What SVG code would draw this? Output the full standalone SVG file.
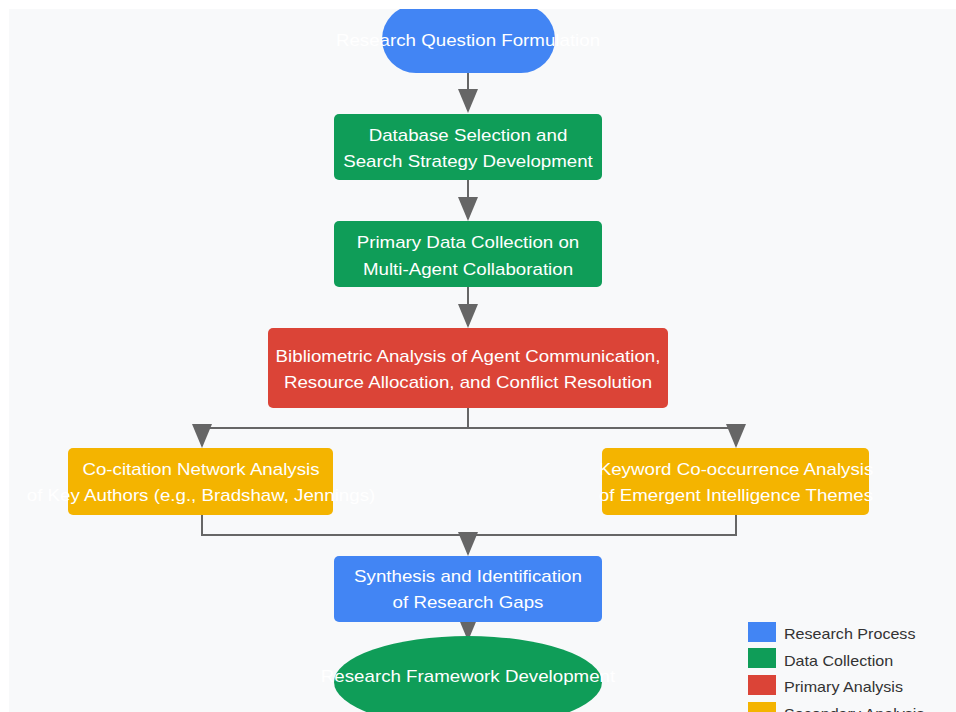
<svg xmlns="http://www.w3.org/2000/svg" width="956" height="712" viewBox="0 0 956 712">
<style>
.t{font-family:"Liberation Sans",Arial,sans-serif;font-size:16px;fill:#ffffff;text-anchor:middle}
.lt{font-family:"Liberation Sans",Arial,sans-serif;font-size:14px;fill:#333333}
.c{fill:none;stroke:#666666;stroke-width:2}
.blue{fill:#4285f4}.green{fill:#0f9d58}.red{fill:#db4437}.yellow{fill:#f4b400}
</style>
<defs>
<clipPath id="view"><rect x="9" y="9" width="947" height="703"/></clipPath>
<marker id="ah" markerUnits="userSpaceOnUse" markerWidth="24" markerHeight="20" viewBox="0 0 24 20" refX="22" refY="10" orient="auto">
<path d="M0,0 L24,10 L0,20 z" fill="#666666"/>
</marker>
</defs>
<rect x="0" y="0" width="956" height="712" fill="#ffffff"/>
<rect x="9" y="9" width="947" height="703" fill="#f8f9fa"/>
<g clip-path="url(#view)">
<g id="connectors">
<line class="c" x1="468" y1="73" x2="468" y2="111" marker-end="url(#ah)"/>
<line class="c" x1="468" y1="180" x2="468" y2="219" marker-end="url(#ah)"/>
<line class="c" x1="468" y1="287" x2="468" y2="326" marker-end="url(#ah)"/>
<polyline class="c" points="468,408 468,428"/>
<polyline class="c" points="202,428 736,428"/>
<line class="c" x1="202" y1="428" x2="202" y2="446" marker-end="url(#ah)"/>
<line class="c" x1="736" y1="428" x2="736" y2="446" marker-end="url(#ah)"/>
<polyline class="c" points="202,515 202,535 736,535 736,515"/>
<line class="c" x1="468" y1="535" x2="468" y2="554" marker-end="url(#ah)"/>
<line class="c" x1="468" y1="622" x2="468" y2="639" marker-end="url(#ah)"/>
</g>
<g id="n1">
<rect class="blue" x="382" y="5" width="173" height="68" rx="34"/>
<text class="t" transform="translate(468 46) scale(1.17 1)">Research Question Formulation</text>
</g>
<g id="n2">
<rect class="green" x="334" y="114" width="268" height="66" rx="5"/>
<text class="t" transform="translate(468 141) scale(1.17 1)">Database Selection and</text>
<text class="t" transform="translate(468 167) scale(1.17 1)">Search Strategy Development</text>
</g>
<g id="n3">
<rect class="green" x="334" y="221" width="268" height="66" rx="5"/>
<text class="t" transform="translate(468 248) scale(1.17 1)">Primary Data Collection on</text>
<text class="t" transform="translate(468 275) scale(1.17 1)">Multi-Agent Collaboration</text>
</g>
<g id="n4">
<rect class="red" x="268" y="328" width="400" height="80" rx="5"/>
<text class="t" transform="translate(468 362) scale(1.17 1)">Bibliometric Analysis of Agent Communication,</text>
<text class="t" transform="translate(468 388) scale(1.17 1)">Resource Allocation, and Conflict Resolution</text>
</g>
<g id="n5">
<rect class="yellow" x="68" y="448" width="265" height="67" rx="5"/>
<text class="t" transform="translate(201 475) scale(1.17 1)">Co-citation Network Analysis</text>
<text class="t" transform="translate(201 501) scale(1.17 1)">of Key Authors (e.g., Bradshaw, Jennings)</text>
</g>
<g id="n6">
<rect class="yellow" x="602" y="448" width="267" height="67" rx="5"/>
<text class="t" transform="translate(736 475) scale(1.17 1)">Keyword Co-occurrence Analysis</text>
<text class="t" transform="translate(736 501) scale(1.17 1)">of Emergent Intelligence Themes</text>
</g>
<g id="n7">
<rect class="blue" x="334" y="556" width="268" height="66" rx="5"/>
<text class="t" transform="translate(468 582) scale(1.17 1)">Synthesis and Identification</text>
<text class="t" transform="translate(468 608) scale(1.17 1)">of Research Gaps</text>
</g>
<g id="n8">
<ellipse class="green" cx="468" cy="682" rx="134" ry="46"/>
<text class="t" transform="translate(468 682) scale(1.17 1)">Research Framework Development</text>
</g>
<g id="legend">
<rect class="blue" x="748" y="622" width="28" height="20"/>
<text class="lt" transform="translate(784 639) scale(1.15 1)">Research Process</text>
<rect class="green" x="748" y="648" width="28" height="20"/>
<text class="lt" transform="translate(784 665.5) scale(1.15 1)">Data Collection</text>
<rect class="red" x="748" y="675" width="28" height="20"/>
<text class="lt" transform="translate(784 692) scale(1.15 1)">Primary Analysis</text>
<rect class="yellow" x="748" y="702" width="28" height="20"/>
<text class="lt" transform="translate(784 718.5) scale(1.15 1)">Secondary Analysis</text>
</g>
</g>
</svg>
